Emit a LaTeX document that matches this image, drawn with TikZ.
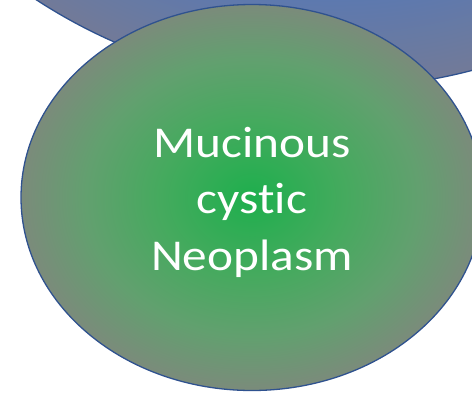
\documentclass[tikz,border=0pt]{standalone}
\usepackage{fontspec}
\newfontfamily\calib[FakeStretch=1.12,Ligatures=NoCommon]{Carlito}
\definecolor{edgeblue}{HTML}{2F528F}
\definecolor{bcA}{HTML}{4472C4}
\definecolor{bcB}{HTML}{5879B4}
\definecolor{bcC}{HTML}{727A98}
\definecolor{gcA}{HTML}{1EAF4D}
\definecolor{gcB}{HTML}{45AA5E}
\definecolor{gcC}{HTML}{62A06F}
\definecolor{gcD}{HTML}{7B8B7B}
\pgfdeclareradialshading{bluerad}{\pgfpointorigin}{color(0bp)=(bcA); color(20bp)=(bcB); color(25bp)=(bcC); color(50bp)=(bcC)}
\pgfdeclareradialshading{greenrad}{\pgfpointorigin}{color(0bp)=(gcA); color(10bp)=(gcB); color(18bp)=(gcC); color(25bp)=(gcD); color(50bp)=(gcD)}
\tikzset{
  bluecirc/.style={shading=bluerad, draw=edgeblue, line width=1.3pt},
  greenell/.style={shading=greenrad, draw=edgeblue, line width=1.3pt},
  labeltext/.style={text=white, align=center, inner sep=0pt, font=\calib\fontsize{44}{56.5}\selectfont}
}
\begin{document}
\begin{tikzpicture}[x=1pt,y=-1pt]
\useasboundingbox (0,0) rectangle (472,392);
\clip (0,0) rectangle (472,392);
\shadedraw[bluecirc] (334,-458) circle[radius=546];
\shadedraw[greenell] (252,197.5) ellipse[x radius=231, y radius=193];
\node[labeltext, anchor=base] (label) at (252,270) {Mucinous\\cystic\\Neoplasm};
\end{tikzpicture}
\end{document}
